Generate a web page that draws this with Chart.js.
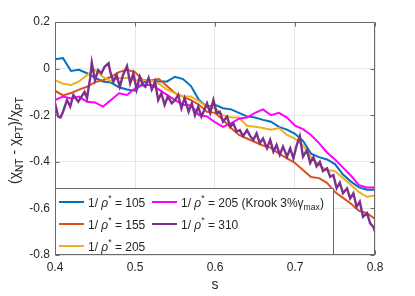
<!DOCTYPE html>
<html>
<head>
<meta charset="utf-8">
<script src="https://cdn.jsdelivr.net/npm/chart.js@4.4.1/dist/chart.umd.min.js"></script>
<style>
  body { margin: 0; background: #fff; }
  #wrap { width: 415px; height: 296px; }
</style>
</head>
<body>
<div id="wrap"><canvas id="chi" width="415" height="296"></canvas></div>
<script>
// s grid shared by the smoother runs
const sGrid = [0.40, 0.41, 0.42, 0.43, 0.44, 0.45, 0.46, 0.47, 0.48, 0.49,
  0.50, 0.51, 0.52, 0.53, 0.54, 0.55, 0.56, 0.57, 0.58, 0.59,
  0.60, 0.61, 0.62, 0.63, 0.64, 0.65, 0.66, 0.67, 0.68, 0.69,
  0.70, 0.71, 0.72, 0.73, 0.74, 0.75, 0.76, 0.77, 0.78, 0.79, 0.80];

const chi105 = [0.040, 0.045, -0.010, -0.005, -0.020, -0.040, -0.055, -0.060, -0.080, -0.090,
  -0.095, -0.060, -0.050, -0.055, -0.055, -0.035, -0.045, -0.075, -0.135, -0.165,
  -0.155, -0.170, -0.175, -0.190, -0.205, -0.210, -0.220, -0.228, -0.250, -0.262,
  -0.280, -0.310, -0.365, -0.380, -0.390, -0.410, -0.455, -0.485, -0.510, -0.520, -0.520];

const chi155 = [-0.095, -0.115, -0.105, -0.090, -0.078, -0.058, -0.050, -0.035, -0.015, -0.005,
  -0.015, -0.050, -0.050, -0.045, -0.075, -0.105, -0.120, -0.135, -0.155, -0.185,
  -0.190, -0.220, -0.255, -0.285, -0.300, -0.315, -0.330, -0.340, -0.365, -0.385,
  -0.405, -0.435, -0.465, -0.470, -0.490, -0.530, -0.555, -0.580, -0.610, -0.620, -0.645];

const chi205 = [-0.050, -0.065, -0.070, -0.055, -0.028, -0.005, -0.035, -0.055, -0.040, -0.040,
  -0.050, -0.050, -0.050, -0.065, -0.090, -0.105, -0.120, -0.120, -0.140, -0.165,
  -0.170, -0.200, -0.210, -0.210, -0.245, -0.250, -0.255, -0.262, -0.255, -0.285,
  -0.300, -0.330, -0.380, -0.415, -0.435, -0.440, -0.470, -0.500, -0.530, -0.550, -0.545];

const chiKrook = [-0.135, -0.120, -0.128, -0.120, -0.142, -0.145, -0.163, -0.135, -0.106, -0.113,
  -0.085, -0.070, -0.070, -0.090, -0.113, -0.135, -0.155, -0.158, -0.200, -0.205,
  -0.230, -0.250, -0.235, -0.215, -0.210, -0.190, -0.175, -0.200, -0.190, -0.210,
  -0.245, -0.260, -0.285, -0.320, -0.360, -0.390, -0.425, -0.460, -0.500, -0.510, -0.510];

// the 1/rho* = 310 run is much noisier, so it gets its own finer s points
const s310 = [0.400, 0.404, 0.407, 0.410, 0.415, 0.419, 0.423, 0.429, 0.437, 0.440,
  0.444, 0.446, 0.450, 0.454, 0.458, 0.462, 0.467, 0.469, 0.473, 0.477,
  0.481, 0.485, 0.490, 0.494, 0.498, 0.502, 0.506, 0.510, 0.513, 0.517,
  0.521, 0.525, 0.529, 0.533, 0.537, 0.541, 0.546, 0.550, 0.554, 0.558,
  0.562, 0.567, 0.571, 0.575, 0.579, 0.583, 0.587, 0.590, 0.594, 0.598,
  0.602, 0.606, 0.610, 0.615, 0.619, 0.623, 0.627, 0.631, 0.635, 0.640,
  0.644, 0.648, 0.652, 0.656, 0.660, 0.665, 0.669, 0.673, 0.677, 0.681,
  0.685, 0.690, 0.694, 0.698, 0.702, 0.706, 0.710, 0.715, 0.719, 0.723,
  0.727, 0.731, 0.735, 0.740, 0.744, 0.748, 0.752, 0.756, 0.760, 0.765,
  0.769, 0.773, 0.777, 0.781, 0.785, 0.790, 0.794, 0.798, 0.800];

const chi310 = [-0.148, -0.206, -0.210, -0.185, -0.135, -0.163, -0.113, -0.142, -0.100, -0.127,
  -0.040, 0.025, -0.050, -0.006, -0.020, 0.008, 0.023, -0.013, -0.056, -0.027,
  -0.078, -0.027, 0.010, -0.063, -0.020, -0.090, -0.035, -0.070, -0.078, -0.040,
  -0.090, -0.056, -0.135, -0.106, -0.156, -0.120, -0.149, -0.135, -0.113, -0.170,
  -0.127, -0.185, -0.149, -0.200, -0.163, -0.206, -0.175, -0.149, -0.190, -0.135,
  -0.190, -0.185, -0.228, -0.206, -0.250, -0.235, -0.270, -0.264, -0.290, -0.264,
  -0.290, -0.306, -0.278, -0.320, -0.300, -0.342, -0.306, -0.356, -0.328, -0.370,
  -0.335, -0.378, -0.342, -0.385, -0.330, -0.290, -0.378, -0.350, -0.405, -0.380,
  -0.420, -0.400, -0.440, -0.428, -0.464, -0.457, -0.514, -0.490, -0.535, -0.514,
  -0.557, -0.535, -0.593, -0.571, -0.636, -0.620, -0.664, -0.680, -0.700];

const xTicks = [0.4, 0.5, 0.6, 0.7, 0.8];
const yTicks = [-0.8, -0.6, -0.4, -0.2, 0, 0.2];

// legend tails after "1/ρ* = "
const legendTails = [
  [{ t: '105' }],
  [{ t: '155' }],
  [{ t: '205' }],
  [{ t: '205 (Krook 3%' }, { t: 'γ' }, { t: 'max', sub: true }, { t: ')' }],
  [{ t: '310' }]
];

const FONT = '"Liberation Sans", Arial, Helvetica, sans-serif';
const INK = '#262626';
const EDGE = '#6b6b6b';

const pts = (xs, ys) => xs.map((x, i) => ({ x: x, y: ys[i] }));

function series(label, xs, ys, color, width, order) {
  return {
    label: label,
    data: pts(xs, ys),
    borderColor: color,
    backgroundColor: color,
    borderWidth: width,
    pointRadius: 0,
    tension: 0,
    fill: false,
    order: order
  };
}

function richWidth(ctx, segs, size) {
  let w = 0;
  segs.forEach(sg => {
    const fs = (sg.sub || sg.sup) ? size * 0.72 : size;
    ctx.font = (sg.it ? 'italic ' : '') + fs + 'px ' + FONT;
    w += ctx.measureText(sg.t).width;
  });
  return w;
}

function drawRich(ctx, segs, x, y, size) {
  let cx = x;
  segs.forEach(sg => {
    let fs = size, dy = 0;
    if (sg.sub) { fs = size * 0.72; dy = size * 0.3; }
    if (sg.sup) { fs = size * 0.72; dy = -size * 0.5; }
    ctx.font = (sg.it ? 'italic ' : '') + fs + 'px ' + FONT;
    ctx.fillText(sg.t, cx, y + dy);
    cx += ctx.measureText(sg.t).width;
  });
}

// MATLAB style box, inward ticks, legend and the y label
const matlabBits = {
  id: 'matlabBits',
  afterDraw(chart) {
    const { ctx, chartArea: a, scales: { x, y } } = chart;
    const L = Math.round(a.left) + 0.5, R = Math.round(a.right) - 0.5;
    const T = Math.round(a.top) + 0.5, B = Math.round(a.bottom) - 0.5;
    ctx.save();
    ctx.strokeStyle = EDGE;
    ctx.lineWidth = 1;
    ctx.strokeRect(L, T, R - L, B - T);
    ctx.beginPath();
    xTicks.forEach(v => {
      const px = Math.round(x.getPixelForValue(v)) + 0.5;
      ctx.moveTo(px, B); ctx.lineTo(px, B - 4);
      ctx.moveTo(px, T); ctx.lineTo(px, T + 4);
    });
    yTicks.forEach(v => {
      const py = Math.round(y.getPixelForValue(v)) + 0.5;
      ctx.moveTo(L, py); ctx.lineTo(L + 4, py);
      ctx.moveTo(R, py); ctx.lineTo(R - 4, py);
    });
    ctx.stroke();

    // legend
    const lx = L, ly = 188.5, lw = 333.5 - L, lh = B - ly;
    ctx.fillStyle = '#fff';
    ctx.fillRect(lx, ly, lw, lh);
    ctx.strokeStyle = EDGE;
    ctx.strokeRect(lx, ly, lw, lh);
    const rows = [202, 224, 246];
    const cols = [59, 152];
    ctx.textBaseline = 'alphabetic';
    ctx.textAlign = 'left';
    chart.data.datasets.forEach((ds, i) => {
      const cx = cols[Math.floor(i / 3)], cy = rows[i % 3];
      ctx.strokeStyle = ds.borderColor;
      ctx.lineWidth = 2;
      ctx.beginPath();
      ctx.moveTo(cx, cy); ctx.lineTo(cx + 25, cy);
      ctx.stroke();
      ctx.fillStyle = INK;
      const segs = [{ t: '1/ ' }, { t: 'ρ', it: true }, { t: '*', sup: true }, { t: ' = ' }].concat(legendTails[i]);
      drawRich(ctx, segs, cx + 29, cy + 4.5, 12);
    });

    // y label, rotated
    const title = [{ t: '(χ' }, { t: 'NT', sub: true }, { t: ' - χ' }, { t: 'PT', sub: true },
      { t: ')/χ' }, { t: 'PT', sub: true }];
    ctx.fillStyle = INK;
    ctx.translate(19, (a.top + a.bottom) / 2 + 2);
    ctx.rotate(-Math.PI / 2);
    const w = richWidth(ctx, title, 14);
    drawRich(ctx, title, -w / 2, 0, 14);
    ctx.restore();
  }
};

const fmt = v => {
  const r = Math.round(v * 10) / 10;
  return r === 0 ? '0' : String(r);
};

new Chart(document.getElementById('chi'), {
  type: 'line',
  data: {
    datasets: [
      series('1/ρ* = 105', sGrid, chi105, '#0072BD', 2, 5),
      series('1/ρ* = 155', sGrid, chi155, '#D95319', 2, 4),
      series('1/ρ* = 205', sGrid, chi205, '#EDB120', 2, 3),
      series('1/ρ* = 205 (Krook 3%γmax)', sGrid, chiKrook, '#FF00FF', 2, 2),
      series('1/ρ* = 310', s310, chi310, '#7E2F8E', 2.4, 1)
    ]
  },
  options: {
    responsive: false,
    animation: false,
    layout: { padding: { left: 0, right: 40, top: 22, bottom: 0 } },
    plugins: { legend: { display: false }, tooltip: { enabled: false } },
    scales: {
      x: {
        type: 'linear',
        min: 0.4,
        max: 0.8,
        afterBuildTicks: s => { s.ticks = xTicks.map(v => ({ value: v })); },
        afterFit: s => { s.height = 41; },
        ticks: { callback: fmt, color: INK, padding: 5, maxRotation: 0, font: { family: FONT, size: 12 } },
        grid: { color: '#e6e6e6', drawTicks: false },
        border: { display: false },
        title: { display: true, text: 's', color: INK, padding: { top: 0, bottom: 2 }, font: { family: FONT, size: 14 } }
      },
      y: {
        type: 'linear',
        min: -0.8,
        max: 0.2,
        afterBuildTicks: s => { s.ticks = yTicks.map(v => ({ value: v })); },
        afterFit: s => { s.width = 55; },
        ticks: { callback: fmt, color: INK, padding: 5, font: { family: FONT, size: 12 } },
        grid: { color: '#e6e6e6', drawTicks: false },
        border: { display: false }
      }
    }
  },
  plugins: [matlabBits]
});
</script>
</body>
</html>
